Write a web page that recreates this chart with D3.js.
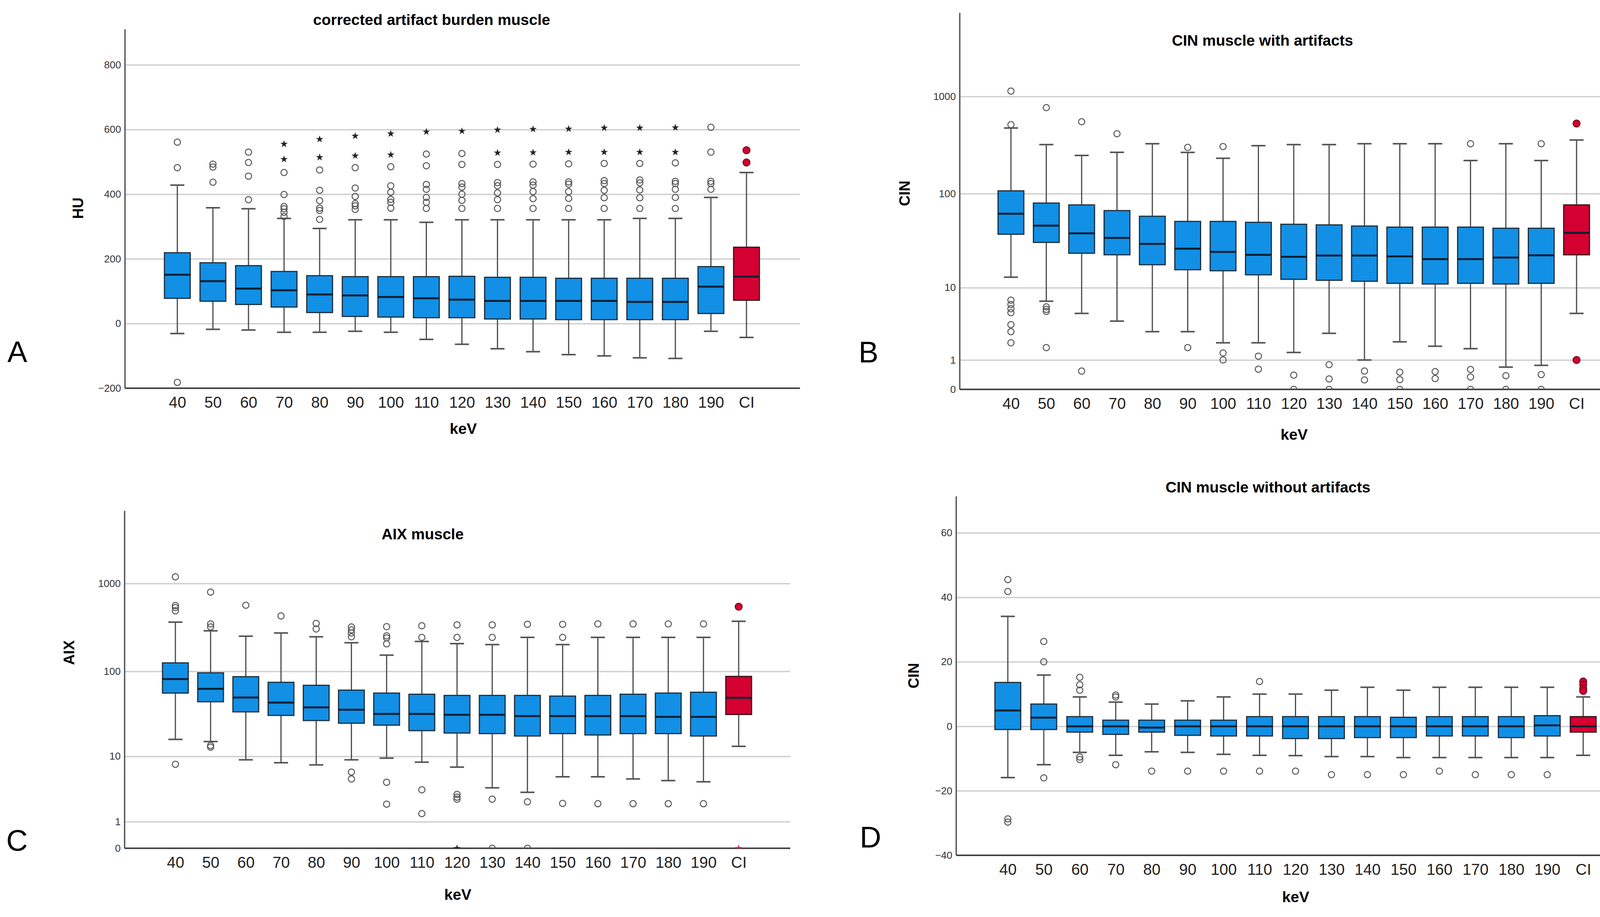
<!DOCTYPE html>
<html>
<head>
<meta charset="utf-8">
<script src="https://cdn.jsdelivr.net/npm/d3@7"></script>
<style>
  body { margin: 0; background: #fff; }
  svg { display: block; }
  text { font-family: "Liberation Sans", Arial, sans-serif; }
</style>
</head>
<body>
<svg id="chart" width="4214" height="2348"></svg>
<script>
"use strict";

// categories shared by all four panels
var categories = ["40", "50", "60", "70", "80", "90", "100", "110", "120",
                  "130", "140", "150", "160", "170", "180", "190", "CI"];

// panel A: corrected artifact burden muscle (HU)
var aTicks = [-200, 0, 200, 400, 600, 800];
var aLow  = [-31, -18, -20, -27, -27, -24, -27, -49, -64, -78, -87, -96, -100, -106, -108, -24, -43];
var aQ1   = [78, 69, 59, 51, 34, 22, 20, 18, 18, 14, 14, 12, 12, 12, 12, 31, 72];
var aMed  = [151, 131, 108, 103, 90, 87, 82, 78, 74, 70, 70, 70, 70, 67, 67, 114, 145];
var aQ3   = [219, 188, 179, 161, 148, 145, 145, 145, 146, 143, 143, 140, 140, 140, 140, 176, 236];
var aHigh = [428, 358, 355, 325, 294, 321, 321, 313, 321, 321, 321, 321, 321, 325, 325, 390, 467];
var aOut = [
  [561, 482, -182], [493, 484, 437], [530, 498, 456, 383],
  [467, 399, 362, 355, 344, 331], [475, 412, 380, 357, 350, 322],
  [482, 419, 393, 371, 364, 353], [485, 426, 406, 384, 375, 357],
  [524, 488, 430, 415, 390, 375, 356], [526, 492, 433, 422, 400, 381, 356],
  [492, 436, 426, 404, 383, 356], [493, 438, 428, 408, 386, 356],
  [494, 438, 431, 408, 387, 356], [495, 442, 433, 412, 389, 356],
  [495, 444, 435, 413, 389, 356], [497, 440, 433, 415, 390, 356],
  [607, 530, 440, 433, 415], [536, 498]
];
var aExt = [[], [], [], [555, 508], [570, 514], [580, 519], [587, 522], [593], [595],
            [599, 528], [601, 529], [602, 530], [605, 530], [605, 530], [606, 530], [], []];

// panel B: CIN muscle with artifacts (log axis)
var logTicks = [0, 1, 10, 100, 1000];
var bLow  = [13.1, 7.0, 5.0, 4.0, 2.9, 2.9, 2.0, 2.0, 1.39, 2.75, 1.0, 2.07, 1.77, 1.61, 0.69, 0.76, 5.0];
var bQ1   = [37.8, 31, 23.8, 22.9, 17.9, 15.8, 15.4, 13.9, 12.4, 12.1, 11.8, 11.2, 11.0, 11.2, 11.0, 11.2, 22.9];
var bMed  = [62, 46.5, 38.6, 34.6, 29.9, 26.6, 24.6, 22.9, 21.8, 22.5, 22.5, 22.0, 20.6, 20.6, 21.4, 22.6, 39.1];
var bQ3   = [107, 80, 76.5, 66.8, 58.3, 51.5, 51.5, 50.4, 48.1, 47.4, 46.1, 44.9, 44.9, 44.9, 43.7, 43.7, 76.5];
var bHigh = [474, 320, 248, 267, 327, 266, 232, 312, 320, 320, 327, 327, 327, 220, 327, 220, 357];
var bOut = [
  [1135, 513, 7.2, 6.4, 5.7, 5.1, 3.6, 2.9, 2.0], [768, 6.0, 5.6, 5.3, 1.68],
  [550, 0.54], [414], [], [300, 1.68], [306, 1.36, 1.0], [1.19, 0.61],
  [0.40, 0], [0.79, 0.28, 0], [0.54, 0.25], [0.50, 0.26, 0], [0.52, 0.29],
  [327, 0.60, 0.34, 0], [0.38, 0], [327, 0.42, 0], [527, 1.0]
];
var bExt = categories.map(function() { return []; });

// panel C: AIX muscle (log axis)
var cLow  = [16.1, 15.2, 9.05, 8.3, 7.8, 9.05, 9.5, 8.45, 7.3, 3.84, 3.3, 5.45, 5.45, 5.1, 4.84, 4.66, 13.3];
var cQ1   = [56.3, 44.7, 34.1, 31.0, 27.0, 25.1, 23.8, 20.5, 19.2, 18.9, 17.7, 18.9, 18.2, 18.9, 18.9, 17.7, 31.8];
var cMed  = [81.6, 63.0, 50.0, 43.7, 38.5, 36.1, 32.3, 32.3, 31.5, 31.5, 30.5, 30.5, 30.5, 30.5, 29.8, 29.8, 49.6];
var cQ3   = [125, 96.2, 86.9, 74.9, 69.2, 60.9, 56.3, 54.6, 52.9, 52.9, 52.9, 52.0, 52.9, 54.6, 56.3, 57.6, 87.5];
var cHigh = [364, 290, 252, 274, 248, 212, 153, 219, 207, 202, 244, 202, 244, 244, 244, 244, 372];
var cOut = [
  [1188, 562, 532, 489, 7.95], [798, 347, 321, 13.6, 13.0], [566], [428], [352, 304],
  [321, 297, 274, 248, 6.3, 5.1], [323, 254, 241, 206, 4.6, 2.16], [331, 244, 3.6, 1.47],
  [339, 244, 3.08, 2.8, 2.6], [339, 244, 2.6, 0], [344, 2.36, 0], [344, 244, 2.23],
  [347, 2.2], [347, 2.2], [347, 2.2], [347, 2.2], [545]
];
var cExt = [[], [], [], [], [], [], [], [], [0], [], [], [], [], [], [], [], [0]];

// panel D: CIN muscle without artifacts
var dTicks = [-40, -20, 0, 20, 40, 60];
var dLow  = [-15.9, -11.9, -8.1, -9.0, -7.9, -8.1, -8.7, -9.0, -9.1, -9.4, -9.4, -9.7, -9.7, -9.7, -9.7, -9.7, -9.0];
var dQ1   = [-1.0, -1.0, -1.8, -2.5, -1.8, -2.8, -3.0, -3.0, -3.8, -3.8, -3.5, -3.5, -3.0, -3.0, -3.5, -3.0, -1.8];
var dMed  = [4.9, 2.7, 0, 0, -0.4, 0, 0, 0, 0, 0, 0, 0, 0, 0, 0, 0.3, 0];
var dQ3   = [13.6, 6.9, 3.0, 1.9, 1.9, 1.9, 1.9, 3.0, 3.0, 3.0, 3.0, 2.8, 3.0, 3.0, 3.0, 3.3, 3.0];
var dHigh = [34.1, 15.9, 9.1, 7.5, 6.9, 7.9, 9.1, 10.0, 10.0, 11.2, 12.1, 11.2, 12.1, 12.1, 12.1, 12.1, 9.1];
var dOut = [
  [45.5, 41.8, -28.7, -29.7], [26.3, 20.0, -16.0], [15.2, 12.9, 11.2, -9.5, -10.3],
  [9.7, 9.1, -11.9], [-13.9], [-13.9], [-13.9], [13.9, -13.9], [-13.9],
  [-15.0], [-15.0], [-15.0], [-13.9], [-15.0], [-15.0], [-15.0], [13.9, 12.9, 11.7, 11.0]
];
var dExt = categories.map(function() { return []; });

var BLUE = "#1190e6", RED = "#d40032";
var BOX_W = 66, CAP_W = 36;

var svg = d3.select("#chart");

// one boxplot panel; layout numbers come in cfg, values in the arrays above
function draw_panel(cfg, idx) {
    var y = (cfg.log ? d3.scaleSymlog().constant(1) : d3.scaleLinear())
        .domain(cfg.domain)
        .range([cfg.yBot, cfg.yTop]);
    var x = d3.scalePoint()
        .domain(categories)
        .range([cfg.first, cfg.last]);

    var g = svg.append("g");

    // gridlines + tick labels
    var yAxis = g.append("g")
        .attr("transform", "translate(" + cfg.x0 + ",0)")
        .call(d3.axisLeft(y)
            .tickValues(cfg.ticks)
            .tickFormat(d3.format("d"))
            .tickSize(-(cfg.x1 - cfg.x0))
            .tickPadding(10));
    yAxis.select(".domain").remove();
    yAxis.selectAll(".tick line")
        .attr("stroke", "#cfcfcf")
        .attr("stroke-width", 3.5);
    yAxis.selectAll(".tick text")
        .attr("fill", "#333")
        .style("font-size", "26px");

    // axis lines
    g.append("line")
        .attr("x1", cfg.x0).attr("x2", cfg.x0)
        .attr("y1", cfg.yTop).attr("y2", cfg.yBot)
        .attr("stroke", "#555").attr("stroke-width", 3.5);
    g.append("line")
        .attr("x1", cfg.x0).attr("x2", cfg.x1)
        .attr("y1", cfg.yBot).attr("y2", cfg.yBot)
        .attr("stroke", "#444").attr("stroke-width", 4);

    // category labels
    var xAxis = g.append("g")
        .attr("transform", "translate(0," + cfg.yBot + ")")
        .call(d3.axisBottom(x).tickSize(0).tickPadding(22));
    xAxis.select(".domain").remove();
    xAxis.selectAll(".tick text")
        .attr("fill", "#222")
        .style("font-size", "40px");

    var clipId = "clip" + idx;
    g.append("clipPath").attr("id", clipId)
      .append("rect")
        .attr("x", cfg.x0).attr("y", cfg.yTop)
        .attr("width", cfg.x1 - cfg.x0).attr("height", cfg.yBot - cfg.yTop);

    var plot = g.append("g").attr("clip-path", "url(#" + clipId + ")");

    var rows = categories.map(function(c, i) {
        return {cat: c, low: cfg.low[i], q1: cfg.q1[i], med: cfg.med[i],
                q3: cfg.q3[i], high: cfg.high[i], out: cfg.out[i], ext: cfg.ext[i],
                fill: c === "CI" ? RED : BLUE};
    });

    var box = plot.selectAll("g.box").data(rows).enter()
      .append("g").attr("class", "box")
        .attr("transform", function(d) { return "translate(" + x(d.cat) + ",0)"; });

    // whiskers
    box.append("line")
        .attr("y1", function(d) { return y(d.low); })
        .attr("y2", function(d) { return y(d.high); })
        .attr("stroke", "#4a4a4a").attr("stroke-width", 3);
    box.selectAll("line.cap")
        .data(function(d) { return [d.low, d.high]; })
        .enter().append("line").attr("class", "cap")
        .attr("x1", -CAP_W / 2).attr("x2", CAP_W / 2)
        .attr("y1", function(v) { return y(v); })
        .attr("y2", function(v) { return y(v); })
        .attr("stroke", "#555").attr("stroke-width", 4);

    // box + median
    box.append("rect")
        .attr("x", -BOX_W / 2).attr("width", BOX_W)
        .attr("y", function(d) { return y(d.q3); })
        .attr("height", function(d) { return y(d.q1) - y(d.q3); })
        .attr("fill", function(d) { return d.fill; })
        .attr("stroke", function(d) { return d.cat === "CI" ? "#3a1018" : "#1e2f3d"; })
        .attr("stroke-width", 3);
    box.append("line")
        .attr("x1", -BOX_W / 2).attr("x2", BOX_W / 2)
        .attr("y1", function(d) { return y(d.med); })
        .attr("y2", function(d) { return y(d.med); })
        .attr("stroke", "#0b1f30").attr("stroke-width", 5);

    // outliers
    box.selectAll("circle")
        .data(function(d) { return d.out.map(function(v) { return {v: v, red: d.cat === "CI"}; }); })
        .enter().append("circle")
        .attr("cy", function(o) { return y(o.v); })
        .attr("r", function(o) { return o.red ? 9 : 8; })
        .attr("fill", function(o) { return o.red ? RED : "none"; })
        .attr("stroke", function(o) { return o.red ? "#7a0a1e" : "#555"; })
        .attr("stroke-width", 2.5);

    // extreme values
    box.selectAll("path.ext")
        .data(function(d) { return d.ext.map(function(v) { return {v: v, red: d.cat === "CI"}; }); })
        .enter().append("path").attr("class", "ext")
        .attr("d", d3.symbol(d3.symbolStar, 110))
        .attr("transform", function(o) { return "translate(0," + y(o.v) + ")"; })
        .attr("fill", function(o) { return o.red ? "#e0204a" : "#222"; });

    // texts
    g.append("text")
        .attr("x", cfg.titleX).attr("y", cfg.titleY)
        .attr("text-anchor", "middle")
        .style("font-size", "39px").style("font-weight", "bold")
        .text(cfg.title);
    g.append("text")
        .attr("transform", "translate(" + cfg.yLabelX + "," + cfg.yLabelY + ") rotate(-90)")
        .attr("text-anchor", "middle")
        .attr("dy", "0.35em")
        .style("font-size", "38px").style("font-weight", "bold")
        .text(cfg.yLabel);
    g.append("text")
        .attr("x", cfg.keVX).attr("y", cfg.keVY)
        .attr("text-anchor", "middle")
        .style("font-size", "39px").style("font-weight", "bold")
        .text("keV");
    g.append("text")
        .attr("x", cfg.letterX).attr("y", cfg.letterY)
        .style("font-size", "76px")
        .text(cfg.letter);
}

var panels = [
    {x0: 320, x1: 2048, yTop: 75, yBot: 994, first: 454, last: 1911,
     domain: [-200, 910], log: false, ticks: aTicks,
     low: aLow, q1: aQ1, med: aMed, q3: aQ3, high: aHigh, out: aOut, ext: aExt,
     title: "corrected artifact burden muscle", titleX: 1105, titleY: 64,
     yLabel: "HU", yLabelX: 200, yLabelY: 533, keVX: 1186, keVY: 1111,
     letter: "A", letterX: 19, letterY: 927},
    {x0: 2457, x1: 4178, yTop: 33, yBot: 997, first: 2588, last: 4036,
     domain: [0, 7177], log: true, ticks: logTicks,
     low: bLow, q1: bQ1, med: bMed, q3: bQ3, high: bHigh, out: bOut, ext: bExt,
     title: "CIN muscle with artifacts", titleX: 3232, titleY: 117,
     yLabel: "CIN", yLabelX: 2316, yLabelY: 495, keVX: 3313, keVY: 1126,
     letter: "B", letterX: 2198, letterY: 928},
    {x0: 319, x1: 2023, yTop: 1308, yBot: 2172, first: 449, last: 1891,
     domain: [0, 6652], log: true, ticks: logTicks,
     low: cLow, q1: cQ1, med: cMed, q3: cQ3, high: cHigh, out: cOut, ext: cExt,
     title: "AIX muscle", titleX: 1082, titleY: 1381,
     yLabel: "AIX", yLabelX: 177, yLabelY: 1671, keVX: 1172, keVY: 2304,
     letter: "C", letterX: 16, letterY: 2178},
    {x0: 2448, x1: 4187, yTop: 1271, yBot: 2190, first: 2580, last: 4053,
     domain: [-40, 71.3], log: false, ticks: dTicks,
     low: dLow, q1: dQ1, med: dMed, q3: dQ3, high: dHigh, out: dOut, ext: dExt,
     title: "CIN muscle without artifacts", titleX: 3246, titleY: 1261,
     yLabel: "CIN", yLabelX: 2339, yLabelY: 1730, keVX: 3317, keVY: 2310,
     letter: "D", letterX: 2201, letterY: 2170}
];

panels.forEach(draw_panel);
</script>
</body>
</html>
